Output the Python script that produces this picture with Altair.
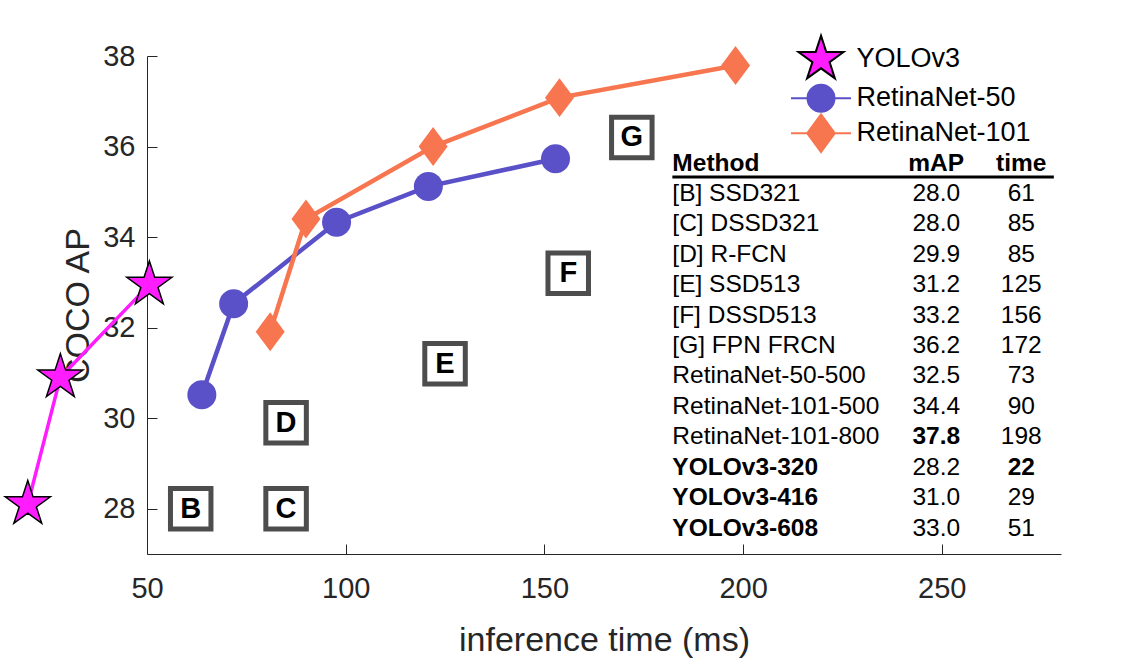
import altair as alt
import pandas as pd

FONT = "Liberation Sans"
W, H = 914, 498

# ---------------- data ----------------
series_names = ["YOLOv3", "RetinaNet-50", "RetinaNet-101"]
yolo_time = [20.0, 28.2, 50.6]
yolo_ap = [28.1, 30.9, 32.95]
r50_time = [63.8, 71.8, 97.7, 120.8, 152.8]
r50_ap = [30.52, 32.53, 34.33, 35.12, 35.73]
r101_time = [81.0, 90.0, 122.0, 153.8, 198.1]
r101_ap = [31.91, 34.40, 36.0, 37.08, 37.79]

box_labels = ["B", "C", "D", "E", "F", "G"]
box_time = [61, 85, 85, 125, 156, 172]
box_ap = [28.0, 28.0, 29.9, 31.2, 33.2, 36.2]

x_ticks = [50, 100, 150, 200, 250]
y_ticks = [28, 30, 32, 34, 36, 38]

table_header = ["Method", "mAP", "time"]
table_method = ["[B] SSD321", "[C] DSSD321", "[D] R-FCN", "[E] SSD513", "[F] DSSD513",
                "[G] FPN FRCN", "RetinaNet-50-500", "RetinaNet-101-500", "RetinaNet-101-800",
                "YOLOv3-320", "YOLOv3-416", "YOLOv3-608"]
table_map = ["28.0", "28.0", "29.9", "31.2", "33.2", "36.2", "32.5", "34.4", "37.8", "28.2", "31.0", "33.0"]
table_time = ["61", "85", "85", "125", "156", "172", "73", "90", "198", "22", "29", "51"]
table_method_bold = [0, 0, 0, 0, 0, 0, 0, 0, 0, 1, 1, 1]
table_map_bold = [0, 0, 0, 0, 0, 0, 0, 0, 1, 0, 0, 0]
table_time_bold = [0, 0, 0, 0, 0, 0, 0, 0, 0, 1, 0, 0]

# ---------------- styles / layout ----------------
MAGENTA = "#ff1dff"
BLUE = "#5a50c8"
CORAL = "#f7764f"
DARK = "#262626"

# table layout in data units
TAB_METHOD_X = 182.2
TAB_MAP_X = 248.6
TAB_TIME_X = 270.0
TAB_HEADER_Y = 35.62
TAB_ROW0_Y = 34.96
TAB_ROW_STEP = 0.673
TAB_LINE_Y = 35.33
TAB_LINE_X2 = 278.2


def star_path(r, inner=0.382):
    import math
    pts = []
    for k in range(10):
        ang = math.radians(-90 + 36 * k)
        rad = r if k % 2 == 0 else r * inner
        pts.append((rad * math.cos(ang), rad * math.sin(ang)))
    return "M" + "L".join(f"{x:.4f},{y:.4f}" for x, y in pts) + "Z"


STAR = star_path(1.0)
DIAMOND = "M0,-1.34L1,0L0,1.34L-1,0Z"
STAR_LEG = star_path(1.63)
CIRC_LEG = "M-2.07,0L2.07,0M0.93,0A0.93,0.93 0 1,1 -0.93,0A0.93,0.93 0 1,1 0.93,0Z"
DIAM_LEG = "M-2.07,0L2.07,0M0,-1.3L0.95,0L0,1.3L-0.95,0Z"

xs = alt.Scale(domain=[50, 280], nice=False, zero=False)
ys = alt.Scale(domain=[27, 38], nice=False, zero=False)


def X(field, axis=None):
    return alt.X(field, type="quantitative", scale=xs, axis=axis)


def Y(field, axis=None):
    return alt.Y(field, type="quantitative", scale=ys, axis=axis)


main_x_axis = alt.Axis(orient="bottom", values=x_ticks, ticks=False, tickSize=0, grid=False,
                       labelFont=FONT, labelFontSize=29, labelColor=DARK, labelPadding=20,
                       labelFlush=False, labelOverlap=False,
                       domainColor=DARK, domainWidth=1, format="d",
                       title="inference time (ms)", titleFont=FONT, titleFontSize=34,
                       titleFontWeight="normal", titleColor=DARK, titleY=96,
                       titleBaseline="alphabetic")
main_y_axis = alt.Axis(orient="left", values=y_ticks, ticks=False, tickSize=0, grid=False,
                       labelFont=FONT, labelFontSize=29, labelColor=DARK, labelPadding=12,
                       labelFlush=False, labelOverlap=False,
                       domainColor=DARK, domainWidth=1, format="d",
                       title="COCO AP", titleFont=FONT, titleFontSize=34,
                       titleFontWeight="normal", titleColor=DARK, titleX=-58.7, titleY=H / 2,
                       titleAngle=270, titleBaseline="alphabetic", titleAlign="center")
tick_x_axis = alt.Axis(orient="top", offset=-H, values=x_ticks, labels=False, domain=False,
                       ticks=True, tickSize=10, tickColor=DARK, tickWidth=1, grid=False, title=None)
tick_y_axis = alt.Axis(orient="right", offset=-W, values=y_ticks, labels=False, domain=False,
                       ticks=True, tickSize=10, tickColor=DARK, tickWidth=1, grid=False, title=None)

# ---------------- tables ----------------
yolo_df = pd.DataFrame({"t": yolo_time, "ap": yolo_ap})
r50_df = pd.DataFrame({"t": r50_time, "ap": r50_ap})
r101_df = pd.DataFrame({"t": r101_time, "ap": r101_ap})
box_df = pd.DataFrame({"t": box_time, "ap": box_ap, "lab": box_labels})

cells = []
for j, h in enumerate(table_header):
    cells.append({"txt": h, "x": [TAB_METHOD_X, TAB_MAP_X, TAB_TIME_X][j], "y": TAB_HEADER_Y,
                  "kind": "method" if j == 0 else "num", "bold": 1})
for i in range(len(table_method)):
    y = TAB_ROW0_Y - TAB_ROW_STEP * i
    cells.append({"txt": table_method[i], "x": TAB_METHOD_X, "y": y, "kind": "method", "bold": table_method_bold[i]})
    cells.append({"txt": table_map[i], "x": TAB_MAP_X, "y": y, "kind": "num", "bold": table_map_bold[i]})
    cells.append({"txt": table_time[i], "x": TAB_TIME_X, "y": y, "kind": "num", "bold": table_time_bold[i]})
cell_df = pd.DataFrame(cells)
line_df = pd.DataFrame({"x": [TAB_METHOD_X], "x2": [TAB_LINE_X2], "y": [TAB_LINE_Y]})
legend_df = pd.DataFrame({"series": series_names})

# ---------------- layers ----------------
boxes = alt.Chart(box_df).mark_square(size=1640, filled=True, fill="white", stroke="#4d4d4d",
                                      strokeWidth=5, opacity=1).encode(x=X("t"), y=Y("ap"))
box_text = alt.Chart(box_df).mark_text(font=FONT, fontSize=29, fontWeight="bold", color="black",
                                       align="center", baseline="middle").encode(
    x=X("t"), y=Y("ap"), text="lab:N")

table_layers = []
for kind, align in [("method", "left"), ("num", "center")]:
    for bold in [0, 1]:
        table_layers.append(
            alt.Chart(cell_df).transform_filter(
                f"datum.kind == '{kind}' && datum.bold == {bold}"
            ).mark_text(font=FONT, fontSize=24.5, fontWeight="bold" if bold else "normal",
                        color="black", align=align, baseline="middle").encode(
                x=X("x"), y=Y("y"), text="txt:N"))
underline = alt.Chart(line_df).mark_rule(color="black", strokeWidth=3).encode(
    x=X("x"), x2="x2", y=Y("y"))

yolo_line = alt.Chart(yolo_df).mark_line(color=MAGENTA, strokeWidth=3.5).encode(x=X("t"), y=Y("ap"))
r50_line = alt.Chart(r50_df).mark_line(color=BLUE, strokeWidth=4.5).encode(
    x=X("t", main_x_axis), y=Y("ap", main_y_axis))
r101_line = alt.Chart(r101_df).mark_line(color=CORAL, strokeWidth=4.5).encode(x=X("t"), y=Y("ap"))

yolo_pts = alt.Chart(yolo_df).mark_point(shape=STAR, size=2250, filled=True, fill=MAGENTA,
                                         stroke="black", strokeWidth=1.5, opacity=1).encode(
    x=X("t"), y=Y("ap"))
r50_pts = alt.Chart(r50_df).mark_circle(size=841, color=BLUE, opacity=1).encode(
    x=X("t", tick_x_axis), y=Y("ap", tick_y_axis))
r101_pts = alt.Chart(r101_df).mark_point(shape=DIAMOND, size=841, filled=True, fill=CORAL,
                                         opacity=1).encode(x=X("t"), y=Y("ap"))

LEG = alt.Legend(orient="none", legendX=658.5, legendY=-12.2, padding=0, title=None,
                 labelFont=FONT, labelFontSize=27, labelColor="black", labelOffset=20.0,
                 labelLimit=400, symbolSize=841, symbolStrokeWidth=2, rowPadding=-6)
legend_layer = alt.Chart(legend_df).transform_filter("datum.series == '__none__'").mark_point(
    filled=True, opacity=1).encode(
    shape=alt.Shape("series:N", title=None, legend=LEG,
                    scale=alt.Scale(domain=series_names, range=[STAR_LEG, CIRC_LEG, DIAM_LEG])),
    fill=alt.Fill("series:N", title=None, legend=LEG,
                  scale=alt.Scale(domain=series_names, range=[MAGENTA, BLUE, CORAL])),
    stroke=alt.Stroke("series:N", title=None, legend=LEG,
                      scale=alt.Scale(domain=series_names, range=["black", BLUE, CORAL])),
)

chart = alt.layer(
    boxes, box_text, *table_layers, underline,
    yolo_line, r50_line, r101_line,
    yolo_pts, r50_pts, r101_pts,
    legend_layer,
).resolve_axis(x="independent", y="independent").properties(
    width=W, height=H,
    autosize=alt.AutoSizeParams(type="none"),
    padding={"left": 147, "top": 56, "right": 67, "bottom": 110},
    background="white",
).configure_view(stroke=None)

chart.save("out.html", embed_options={"renderer": "svg", "actions": False})
